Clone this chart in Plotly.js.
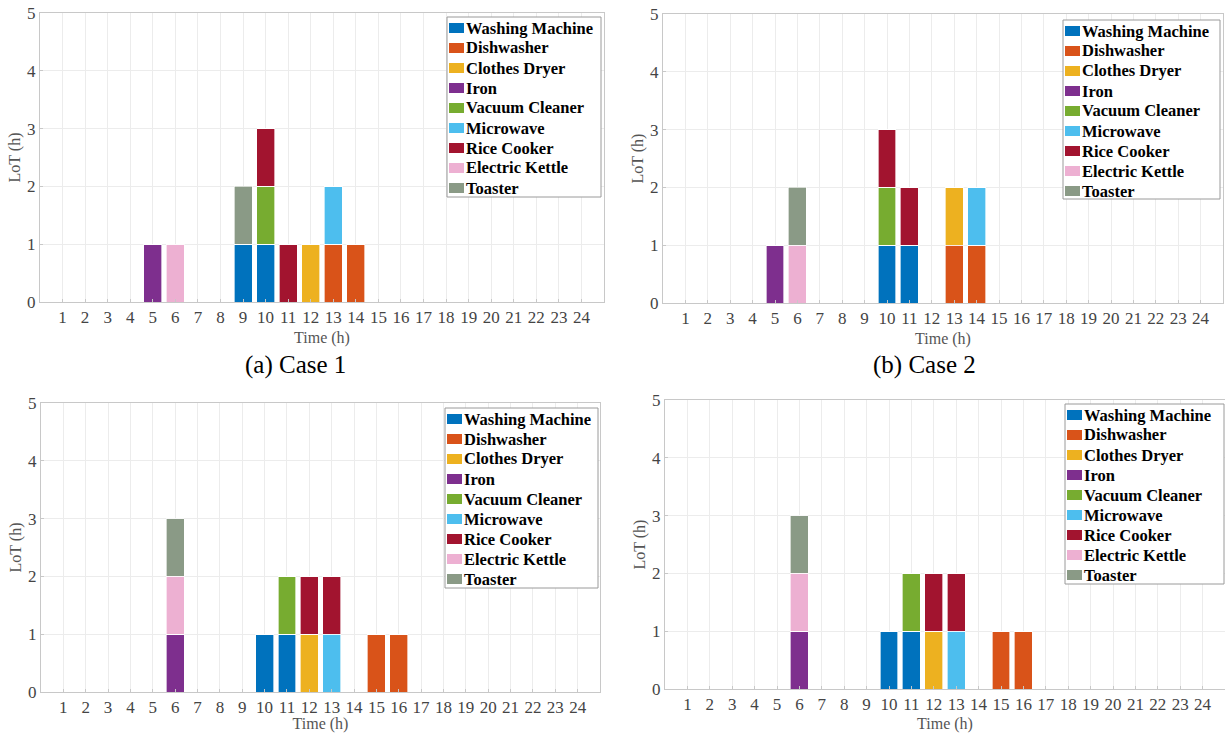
<!DOCTYPE html>
<html>
<head>
<meta charset="utf-8">
<script src="https://cdn.plot.ly/plotly-3.0.1.min.js"></script>
<style>html,body{margin:0;padding:0;background:#fff;}#chart{width:1225px;height:733px;}</style>
</head>
<body>
<div id="chart"></div>
<script>
// Hours 1..24
const hours = [1,2,3,4,5,6,7,8,9,10,11,12,13,14,15,16,17,18,19,20,21,22,23,24];
const appliances = ["Washing Machine","Dishwasher","Clothes Dryer","Iron","Vacuum Cleaner","Microwave","Rice Cooker","Electric Kettle","Toaster"];
const colors = ["#0072BD","#D95319","#EDB120","#7E2F8E","#77AC30","#4DBEEE","#A2142F","#EDB0D2","#8A9A86"];
const captions = ["(a) Case 1","(b) Case 2"];

// LoT per hour (h), one row per appliance, columns = hours 1..24
const case1 = [
  [0,0,0,0,0,0,0,0,1,1,0,0,0,0,0,0,0,0,0,0,0,0,0,0], // Washing Machine
  [0,0,0,0,0,0,0,0,0,0,0,0,1,1,0,0,0,0,0,0,0,0,0,0], // Dishwasher
  [0,0,0,0,0,0,0,0,0,0,0,1,0,0,0,0,0,0,0,0,0,0,0,0], // Clothes Dryer
  [0,0,0,0,1,0,0,0,0,0,0,0,0,0,0,0,0,0,0,0,0,0,0,0], // Iron
  [0,0,0,0,0,0,0,0,0,1,0,0,0,0,0,0,0,0,0,0,0,0,0,0], // Vacuum Cleaner
  [0,0,0,0,0,0,0,0,0,0,0,0,1,0,0,0,0,0,0,0,0,0,0,0], // Microwave
  [0,0,0,0,0,0,0,0,0,1,1,0,0,0,0,0,0,0,0,0,0,0,0,0], // Rice Cooker
  [0,0,0,0,0,1,0,0,0,0,0,0,0,0,0,0,0,0,0,0,0,0,0,0], // Electric Kettle
  [0,0,0,0,0,0,0,0,1,0,0,0,0,0,0,0,0,0,0,0,0,0,0,0]  // Toaster
];
const case2 = [
  [0,0,0,0,0,0,0,0,0,1,1,0,0,0,0,0,0,0,0,0,0,0,0,0],
  [0,0,0,0,0,0,0,0,0,0,0,0,1,1,0,0,0,0,0,0,0,0,0,0],
  [0,0,0,0,0,0,0,0,0,0,0,0,1,0,0,0,0,0,0,0,0,0,0,0],
  [0,0,0,0,1,0,0,0,0,0,0,0,0,0,0,0,0,0,0,0,0,0,0,0],
  [0,0,0,0,0,0,0,0,0,1,0,0,0,0,0,0,0,0,0,0,0,0,0,0],
  [0,0,0,0,0,0,0,0,0,0,0,0,0,1,0,0,0,0,0,0,0,0,0,0],
  [0,0,0,0,0,0,0,0,0,1,1,0,0,0,0,0,0,0,0,0,0,0,0,0],
  [0,0,0,0,0,1,0,0,0,0,0,0,0,0,0,0,0,0,0,0,0,0,0,0],
  [0,0,0,0,0,1,0,0,0,0,0,0,0,0,0,0,0,0,0,0,0,0,0,0]
];
const case3 = [
  [0,0,0,0,0,0,0,0,0,1,1,0,0,0,0,0,0,0,0,0,0,0,0,0],
  [0,0,0,0,0,0,0,0,0,0,0,0,0,0,1,1,0,0,0,0,0,0,0,0],
  [0,0,0,0,0,0,0,0,0,0,0,1,0,0,0,0,0,0,0,0,0,0,0,0],
  [0,0,0,0,0,1,0,0,0,0,0,0,0,0,0,0,0,0,0,0,0,0,0,0],
  [0,0,0,0,0,0,0,0,0,0,1,0,0,0,0,0,0,0,0,0,0,0,0,0],
  [0,0,0,0,0,0,0,0,0,0,0,0,1,0,0,0,0,0,0,0,0,0,0,0],
  [0,0,0,0,0,0,0,0,0,0,0,1,1,0,0,0,0,0,0,0,0,0,0,0],
  [0,0,0,0,0,1,0,0,0,0,0,0,0,0,0,0,0,0,0,0,0,0,0,0],
  [0,0,0,0,0,1,0,0,0,0,0,0,0,0,0,0,0,0,0,0,0,0,0,0]
];
const case4 = [
  [0,0,0,0,0,0,0,0,0,1,1,0,0,0,0,0,0,0,0,0,0,0,0,0],
  [0,0,0,0,0,0,0,0,0,0,0,0,0,0,1,1,0,0,0,0,0,0,0,0],
  [0,0,0,0,0,0,0,0,0,0,0,1,0,0,0,0,0,0,0,0,0,0,0,0],
  [0,0,0,0,0,1,0,0,0,0,0,0,0,0,0,0,0,0,0,0,0,0,0,0],
  [0,0,0,0,0,0,0,0,0,0,1,0,0,0,0,0,0,0,0,0,0,0,0,0],
  [0,0,0,0,0,0,0,0,0,0,0,0,1,0,0,0,0,0,0,0,0,0,0,0],
  [0,0,0,0,0,0,0,0,0,0,0,1,1,0,0,0,0,0,0,0,0,0,0,0],
  [0,0,0,0,0,1,0,0,0,0,0,0,0,0,0,0,0,0,0,0,0,0,0,0],
  [0,0,0,0,0,1,0,0,0,0,0,0,0,0,0,0,0,0,0,0,0,0,0,0]
];
const cases = [case1, case2, case3, case4];

const W = 1225, H = 733;
// panel pixel boxes: [x0, x1, yTop, yBottom]
const boxes = [
  [40, 604, 13, 302],
  [663, 1223, 14, 303],
  [41, 600, 403, 692],
  [665, 1225, 400, 689]
];
// legend boxes: [left, right, top, bottom]
const legendBoxes = [[447, 601, 17, 197],[1063, 1220, 20, 199],[445, 598, 408, 588],[1065, 1224, 404, 584]];
const captionPos = [[295, 365],[925, 365]];

const serif = "Liberation Serif, Times New Roman, serif";
const traces = [];
const layout = {
  width: W, height: H,
  margin: {l:0, r:0, t:0, b:0},
  paper_bgcolor: "#fff", plot_bgcolor: "#fff",
  barmode: "stack", bargap: 0.2,
  showlegend: false,
  font: {family: serif, color: "#333"},
  annotations: [], shapes: []
};
const px = v => v / W, py = v => 1 - v / H;

cases.forEach((c, p) => {
  const sfx = p === 0 ? "" : String(p + 1);
  c.forEach((vals, i) => {
    traces.push({
      type: "bar",
      x: hours, y: vals,
      name: appliances[i],
      xaxis: "x" + sfx, yaxis: "y" + sfx,
      marker: {color: colors[i], line: {color: "rgba(255,255,255,0.8)", width: 0.8}},
      hoverinfo: "skip"
    });
  });
  const b = boxes[p];
  const axCommon = {
    showline: true, mirror: true, linecolor: "#c8c8c8", linewidth: 1,
    showgrid: true, gridcolor: "#ececec", gridwidth: 1,
    ticks: "inside", ticklen: 3, tickcolor: "#c8c8c8",
    zeroline: false,
    tickfont: {family: serif, size: 17, color: "#444"}
  };
  layout["xaxis" + sfx] = Object.assign({}, axCommon, {
    domain: [px(b[0]), px(b[1])],
    anchor: "y" + sfx,
    range: [0, 25], tickmode: "array", tickvals: hours, ticktext: hours.map(String),
    title: {text: "Time (h)", font: {family: serif, size: 16, color: "#555"}, standoff: 5}
  });
  layout["yaxis" + sfx] = Object.assign({}, axCommon, {
    domain: [py(b[3]), py(b[2])],
    anchor: "x" + sfx,
    range: [0, 5], tickmode: "array", tickvals: [0,1,2,3,4,5],
    title: {text: "LoT (h)", font: {family: serif, size: 16, color: "#555"}, standoff: 2}
  });
  // legend box drawn in paper coordinates
  const lb = legendBoxes[p];
  layout.shapes.push({
    type: "rect", xref: "paper", yref: "paper", layer: "above",
    x0: px(lb[0]), x1: px(lb[1]), y0: py(lb[3]), y1: py(lb[2]),
    fillcolor: "#fff", line: {color: "#9a9a9a", width: 1}
  });
  appliances.forEach((name, i) => {
    const cy = lb[2] + 11 + 20 * i;
    layout.shapes.push({
      type: "rect", xref: "paper", yref: "paper", layer: "above",
      x0: px(lb[0] + 2), x1: px(lb[0] + 17), y0: py(cy + 5), y1: py(cy - 5),
      fillcolor: colors[i], line: {width: 0}
    });
    layout.annotations.push({
      text: "<b>" + name + "</b>", xref: "paper", yref: "paper",
      x: px(lb[0] + 17), y: py(cy), xanchor: "left", yanchor: "middle",
      showarrow: false, font: {family: serif, size: 16.5, color: "#000"}
    });
  });
});

captionPos.forEach((cp, i) => {
  layout.annotations.push({
    text: captions[i], xref: "paper", yref: "paper",
    x: px(cp[0]), y: py(cp[1]), xanchor: "center", yanchor: "middle",
    showarrow: false, font: {family: serif, size: 25, color: "#000"}
  });
});

Plotly.newPlot("chart", traces, layout, {displayModeBar: false, staticPlot: true});
</script>
</body>
</html>
